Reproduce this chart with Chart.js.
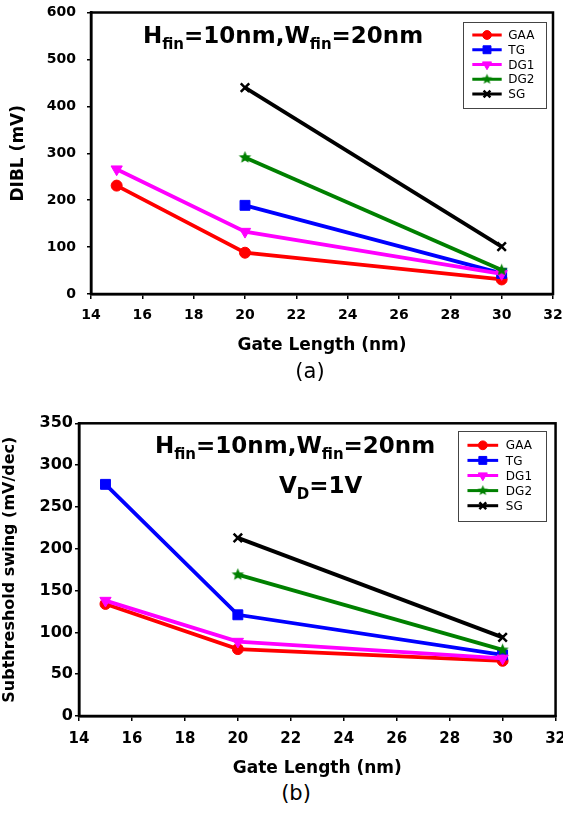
<!DOCTYPE html>
<html><head><meta charset="utf-8">
<script src="https://cdn.jsdelivr.net/npm/chart.js@4/dist/chart.umd.min.js"></script>
<style>
html,body{margin:0;padding:0;background:#fff;overflow:hidden;width:563px;height:823px;position:relative}
#wa{position:absolute;left:0;top:0;width:575px;height:360px;}
#wb{position:absolute;left:0;top:400px;width:575px;height:380px;}
.lab{position:absolute;font-family:"DejaVu Sans";font-size:21px;color:#000;transform:translateX(-50%);line-height:1;white-space:nowrap}
</style></head><body>
<div id="wa"><canvas id="ca"></canvas></div>
<div id="wb"><canvas id="cb"></canvas></div>
<div class="lab" style="left:310px;top:361px">(a)</div>
<div class="lab" style="left:296px;top:783px">(b)</div>
<script>
// ---- data ----
const seriesNames = ['GAA','TG','DG1','DG2','SG'];
const seriesColors = ['#FF0000','#0000FF','#FF00FF','#008000','#000000'];
const gateLen3 = [15,20,30];
const gateLen2 = [20,30];
// (a) DIBL (mV)
const dibl_GAA = [231,88,31];
const dibl_TG  = [189,44];
const dibl_DG1 = [266,133,43];
const dibl_DG2 = [291,51];
const dibl_SG  = [440,101];
// (b) Subthreshold swing (mV/dec)
const ss_GAA = [134,80,66];
const ss_TG  = [277,121,73];
const ss_DG1 = [138,89,69];
const ss_DG2 = [169,79];
const ss_SG  = [213,94];

Chart.defaults.font.family = '"DejaVu Sans"';
Chart.defaults.color = '#000';

function starCanvas(color, r){
  const s = Math.ceil(r*2+2);
  const c = document.createElement('canvas'); c.width = s; c.height = s;
  const g = c.getContext('2d'); g.fillStyle = color; g.beginPath();
  for (let i=0;i<10;i++){ const ang=-Math.PI/2+i*Math.PI/5; const rr=i%2? r*0.45 : r;
    g.lineTo(s/2+rr*Math.cos(ang), s/2+rr*Math.sin(ang)); }
  g.closePath(); g.fill(); return c;
}
const starBig = starCanvas('#008000', 6.5);
const starSmall = starCanvas('#008000', 5.5);

const styles = [
  {pointStyle:'circle', pointRadius:5.5, rotation:0},
  {pointStyle:'rect', pointRadius:7, rotation:0},
  {pointStyle:'triangle', pointRadius:6.5, rotation:180},
  {pointStyle:starBig, pointRadius:6.5, rotation:0, legendStyle:starSmall},
  {pointStyle:'crossRot', pointRadius:6, rotation:0, pointBorderWidth:2.5},
];

function pts(xs, ys){ return xs.map((x,i)=>({x:x, y:ys[i]})); }

function makeDatasets(list){
  return list.map((d,i)=>({
    label: seriesNames[i],
    data: d,
    borderColor: seriesColors[i],
    backgroundColor: seriesColors[i],
    pointBackgroundColor: seriesColors[i],
    pointBorderColor: seriesColors[i],
    pointBorderWidth: styles[i].pointBorderWidth || 1,
    pointStyle: styles[i].pointStyle,
    pointRotation: styles[i].rotation,
    pointRadius: styles[i].pointRadius,
    borderWidth: 3.8,
    fill: false,
    tension: 0,
    order: 5 - i,
    legendStyle: styles[i].legendStyle
  }));
}

function makeDeco(cfg){
  return { id:'deco', afterDraw(chart){
    const ctx = chart.ctx, a = chart.chartArea;
    ctx.save();
    ctx.strokeStyle = '#000'; ctx.lineWidth = 2.5;
    ctx.strokeRect(a.left, a.top, a.right-a.left, a.bottom-a.top);
    // annotation texts with subscripts
    ctx.fillStyle = '#000'; ctx.textAlign = 'left'; ctx.textBaseline = 'alphabetic';
    for (const line of cfg.texts){
      let x = a.left + line.dx; const y = a.top + line.dy;
      for (const p of line.parts){
        ctx.font = p[1] ? 'bold 15px "DejaVu Sans"' : 'bold 23px "DejaVu Sans"';
        ctx.fillText(p[0], x, y + (p[1] ? 6 : 0));
        x += ctx.measureText(p[0]).width;
      }
    }
    // legend
    const L = cfg.legend;
    const bx = a.right - L.dr - L.w, by = a.top + L.dt;
    ctx.fillStyle = '#fff'; ctx.fillRect(bx, by, L.w, L.h);
    ctx.strokeStyle = '#444'; ctx.lineWidth = 1;
    ctx.strokeRect(Math.round(bx)+0.5, Math.round(by)+0.5, Math.round(L.w), Math.round(L.h));
    chart.data.datasets.forEach((ds,i)=>{
      const cy = by + L.y0 + i*L.step;
      ctx.strokeStyle = ds.borderColor; ctx.lineWidth = 3;
      ctx.beginPath(); ctx.moveTo(bx+L.lx0, cy); ctx.lineTo(bx+L.lx1, cy); ctx.stroke();
      ctx.fillStyle = ds.pointBackgroundColor; ctx.strokeStyle = ds.pointBorderColor;
      ctx.lineWidth = ds.pointBorderWidth;
      if (Chart.helpers && Chart.helpers.drawPoint){
        Chart.helpers.drawPoint(ctx, {pointStyle: ds.legendStyle || ds.pointStyle, rotation: ds.pointRotation||0,
          radius: ds.pointRadius*0.8, borderWidth: ds.pointBorderWidth}, (2*bx+L.lx0+L.lx1)/2, cy);
      }
      ctx.fillStyle = '#000'; ctx.font = '12px "DejaVu Sans"'; ctx.textBaseline = 'middle'; ctx.textAlign='left';
      ctx.fillText(ds.label, bx + L.tx, cy + 1);
    });
    ctx.restore();
  }};
}

function makeChart(id, datasets, o){
  return new Chart(document.getElementById(id), {
    type: 'line',
    data: { datasets: datasets },
    options: {
      responsive: true, maintainAspectRatio: false, animation: false,
      events: [],
      layout: { padding: { top: o.padTop, right: o.padRight, bottom: 0, left: 0 } },
      plugins: { legend: {display:false}, tooltip: {enabled:false}, title: {display:false} },
      scales: {
        x: {
          type: 'linear', min: 14, max: 32,
          ticks: { stepSize: 2, color:'#000', padding: o.xTickPad, font: {size: o.xTickSize, weight:'bold'} },
          grid: { drawOnChartArea:false, drawTicks:true, tickLength:5, color:'#000', lineWidth:1.5 },
          border: { color:'#000', width: 2.5 },
          title: { display:true, text:'Gate Length (nm)', color:'#000', font:{size:17, weight:'bold'}, padding:{top:0, bottom:o.xTitlePad} },
          afterFit(s){ s.height = o.xHeight; }
        },
        y: {
          min: 0, max: o.yMax,
          ticks: { stepSize: o.yStep, color:'#000', padding: o.yTickPad, font: {size: o.yTickSize, weight:'bold'} },
          grid: { drawOnChartArea:false, drawTicks:true, tickLength:4, color:'#000', lineWidth:1.5 },
          border: { color:'#000', width: 2.5 },
          title: { display:true, text:o.yTitle, color:'#000', font:{size:o.yTitleSize, weight:'bold'}, padding:{top:o.yTitlePad, bottom:0} },
          afterFit(s){ s.width = o.yWidth; s.paddingTop = 0; s.paddingBottom = 0; }
        }
      }
    },
    plugins: [ makeDeco(o.deco) ]
  });
}

makeChart('ca', makeDatasets([
  pts(gateLen3, dibl_GAA), pts(gateLen2, dibl_TG), pts(gateLen3, dibl_DG1),
  pts(gateLen2, dibl_DG2), pts(gateLen2, dibl_SG)
]), {
  padTop: 12.5, padRight: 22, xTickPad: 8, xTickSize: 14, xTitlePad: 4, xHeight: 66,
  yMax: 600, yStep: 100, yTickPad: 11, yTickSize: 14, yTitle: 'DIBL (mV)', yTitleSize: 17, yTitlePad: 8, yWidth: 91,
  deco: {
    texts: [ {dx:52, dy:30.2, parts:[['H',0],['fin',1],['=10nm,W',0],['fin',1],['=20nm',0]]} ],
    legend: {dr:7.3, dt:9.5, w:83, h:86, y0:13, step:14.75, lx0:9.6, lx1:39, tx:45.6}
  }
});

makeChart('cb', makeDatasets([
  pts(gateLen3, ss_GAA), pts(gateLen3, ss_TG), pts(gateLen3, ss_DG1),
  pts(gateLen2, ss_DG2), pts(gateLen2, ss_SG)
]), {
  padTop: 23.3, padRight: 17, xTickPad: 9, xTickSize: 15, xTitlePad: 1, xHeight: 64,
  yMax: 350, yStep: 50, yTickPad: 2, yTickSize: 16, yTitle: 'Subthreshold swing (mV/dec)', yTitleSize: 16, yTitlePad: 0, yWidth: 79,
  deco: {
    texts: [ {dx:76, dy:30, parts:[['H',0],['fin',1],['=10nm,W',0],['fin',1],['=20nm',0]]},
             {dx:200, dy:69.7, parts:[['V',0],['D',1],['=1V',0]]} ],
    legend: {dr:9.4, dt:7.4, w:88, h:90, y0:14.6, step:15.1, lx0:9.3, lx1:40, tx:47.7}
  }
});
</script>
</body></html>
